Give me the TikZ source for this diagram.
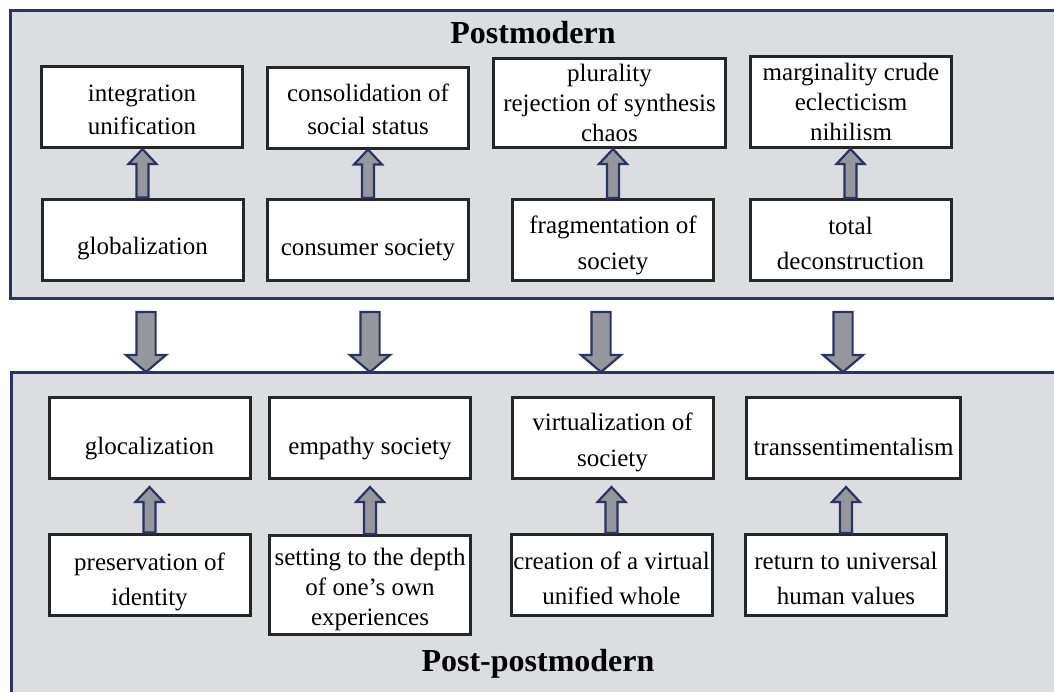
\documentclass[tikz,border=0pt]{standalone}
\usepackage{fontspec}
\setmainfont{Liberation Serif}
\usetikzlibrary{calc}
\definecolor{navy}{RGB}{40,52,100}
\definecolor{panelgray}{RGB}{220,221,224}
\definecolor{arrowgray}{RGB}{150,151,156}
\newcommand{\topgap}[1]{\rule{0pt}{#1}}% pushes the first line down a bit
\tikzset{% common styles of the picture elements
  box/.style        = {shape=rectangle, draw=black!85, line width=1.5pt,
                       fill=white, align=center, inner sep=1pt,
                       minimum width=100.5pt, minimum height=40.5pt,
                       font=\fontsize{12.5}{16.5}\selectfont},
  tight/.style      = {font=\fontsize{12.5}{15}\selectfont},
  loose/.style      = {font=\fontsize{12.5}{17.8}\selectfont},
  title/.style      = {font=\fontsize{16}{19}\selectfont\bfseries},
  frame/.style      = {draw=navy, line width=1.5pt},
  fat/.style n args = {3}{draw=navy, fill=arrowgray, line width=1.1pt,
                       line join=miter,
                       to path={let \p1=(\tikztostart), \p2=(\tikztotarget) in
                         ({\x1-#1},{\y1}) -- ({\x1-#1},{\y2-(#3)})
                         -- ({\x1-#2},{\y2-(#3)}) -- ({\x1},{\y2})
                         -- ({\x1+#2},{\y2-(#3)}) -- ({\x1+#1},{\y2-(#3)})
                         -- ({\x1+#1},{\y1}) -- cycle}},
  liftarrow/.style  = {fat={3pt}{7pt}{7.5pt}},
  droparrow/.style  = {fat={4.8pt}{10pt}{-8.5pt}},
}

\begin{document}
\begin{tikzpicture}[x=0.5pt, y=-0.5pt]
  \useasboundingbox (0,0) rectangle (1054,692);
  % the two panels
  \fill[panelgray] (10,10) rectangle (1054,298);
  \draw[frame] (1054,10) -- (10,10) -- (10,298) -- (1054,298);
  \fill[panelgray] (11,372) rectangle (1054,692);
  \draw[frame] (1054,372) -- (11,372) -- (11,692);

  \node[title] (pmtitle) at (533,33) {Postmodern};
  \node[title] (ppmtitle) at (538,664) {Post-postmodern};

  % postmodern
  \node[box] (integ) at (142,107) {\topgap{11pt}integration\\unification};
  \node[box] (consol) at (368,107.5) {\topgap{11pt}consolidation of\\social status};
  \node[box, tight, minimum width=116pt, minimum height=44.5pt] (plural) at (609.5,103)
       {plurality\\rejection of synthesis\\chaos};
  \node[box, tight, minimum height=45.5pt] (margin) at (851,102)
       {marginality crude\\eclecticism\\nihilism};
  \node[box] (glob) at (142.5,239.5) {\topgap{18pt}globalization};
  \node[box] (consum) at (368,240) {\topgap{18pt}consumer society};
  \node[box, loose] (fragm) at (613,240) {\topgap{14pt}fragmentation of\\society};
  \node[box, loose] (decon) at (850.5,240) {\topgap{12pt}total\\deconstruction};

  % post-postmodern
  \node[box] (glocal) at (149.5,438) {\topgap{19pt}glocalization};
  \node[box] (empathy) at (370,438) {\topgap{19pt}empathy society};
  \node[box, loose] (virtual) at (612.5,438) {\topgap{13pt}virtualization of\\society};
  \node[box, minimum width=107pt] (transs) at (853.5,438) {\topgap{18pt}transsentimentalism};
  \node[box, loose] (ident) at (149.5,574.5) {\topgap{16pt}preservation of\\identity};
  \node[box, tight, minimum height=49.5pt] (depth) at (370,585)
       {\topgap{13pt}setting to the depth\\of one's own\\experiences};
  \node[box, loose] (whole) at (611.5,575) {\topgap{12pt}creation of a virtual\\unified whole};
  \node[box, loose] (values) at (846,575) {\topgap{12pt}return to universal\\human values};

  % arrows inside the panels
  \draw[liftarrow] (glob.north) to (integ.south);
  \draw[liftarrow] (consum.north) to (consol.south);
  \draw[liftarrow] (fragm.north) to (plural.south);
  \draw[liftarrow] (decon.north) to (margin.south);
  \draw[liftarrow] (ident.north) to ([yshift=-3.5pt]glocal.south);
  \draw[liftarrow] (depth.north) to ([yshift=-3.5pt]empathy.south);
  \draw[liftarrow] (whole.north) to ([yshift=-3.5pt]virtual.south);
  \draw[liftarrow] (values.north) to ([yshift=-3.5pt]transs.south);

  % arrows between the panels
  \foreach \x/\k in {146/1, 370/2, 601/3, 843/4} {
    \coordinate (drop\k) at (\x,312);
    \coordinate (land\k) at (\x,372);
    \draw[droparrow] (drop\k) to (land\k);
  }
\end{tikzpicture}
\end{document}
